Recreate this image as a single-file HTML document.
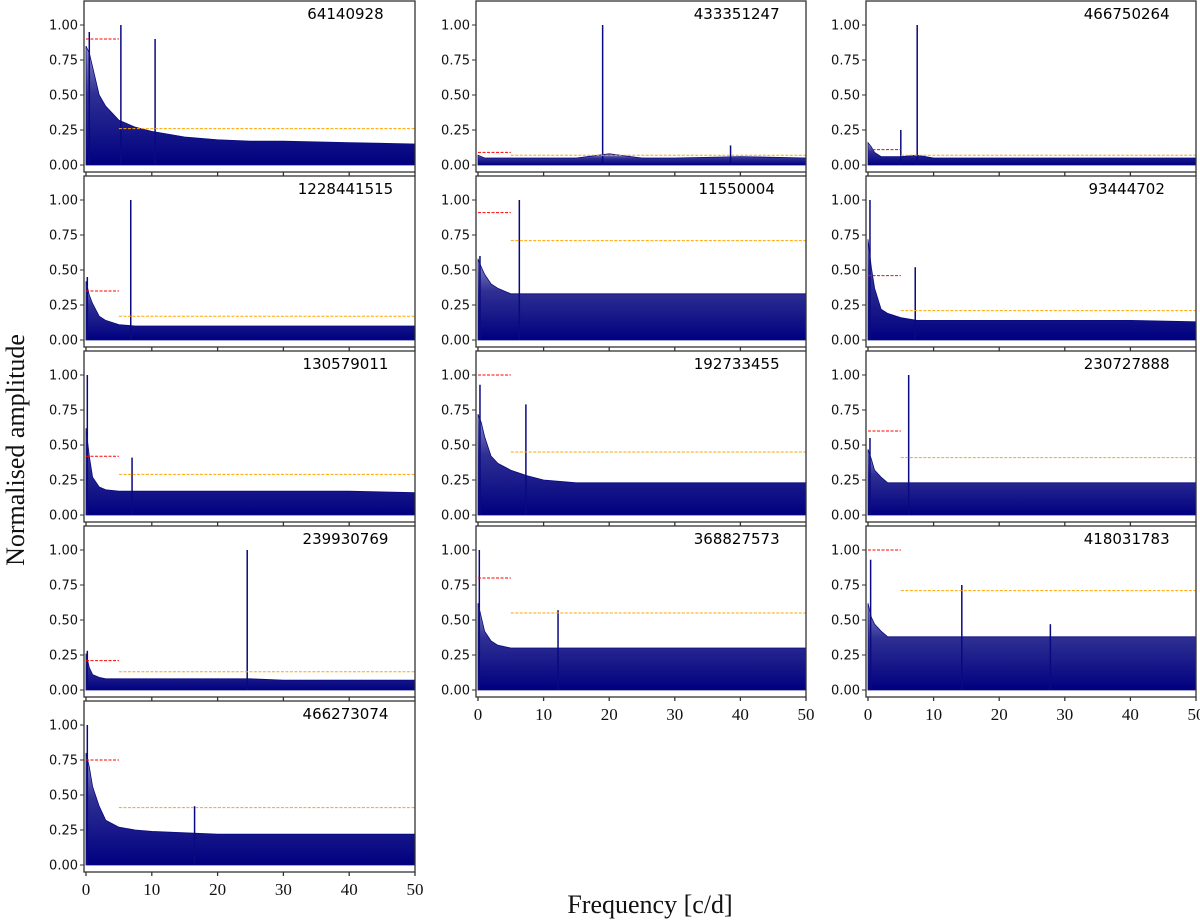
<!DOCTYPE html>
<html><head><meta charset="utf-8"><style>
html,body{margin:0;padding:0;background:#fff;}
svg{display:block;}
.tk{font-family:"DejaVu Sans","Liberation Sans",sans-serif;font-size:13px;fill:#111;}
.xt{font-family:"Liberation Serif",serif;font-size:17px;fill:#111;}
.ttl{font-family:"DejaVu Sans","Liberation Sans",sans-serif;font-size:15px;fill:#000;}
</style></head><body>
<svg id="fig" width="1200" height="922" viewBox="0 0 1200 922" xmlns="http://www.w3.org/2000/svg">
<defs>
<linearGradient id="ng" x1="0" y1="0" x2="0" y2="1">
<stop offset="0" stop-color="#0a0a80" stop-opacity="0.45"/>
<stop offset="0.4" stop-color="#0a0a80" stop-opacity="0.85"/>
<stop offset="1" stop-color="#000080" stop-opacity="1"/>
</linearGradient>
</defs>
<text x="0" y="0" transform="translate(24,450) rotate(-90)" text-anchor="middle" font-family="Liberation Serif, serif" font-size="26" fill="#111">Normalised amplitude</text>
<text x="650" y="913" text-anchor="middle" font-family="Liberation Serif, serif" font-size="26" fill="#111">Frequency [c/d]</text>
</svg>
<script>
const ids = ["64140928","433351247","466750264","1228441515","11550004","93444702","130579011","192733455","230727888","239930769","368827573","418031783","466273074"];
const redLevels = [0.90,0.09,0.11,0.35,0.91,0.46,0.42,1.00,0.60,0.21,0.80,1.00,0.75];
const orangeLevels = [0.26,0.07,0.07,0.17,0.71,0.21,0.29,0.45,0.41,0.13,0.55,0.71,0.41];
const peakFreqs = [[0.5,5.3,10.5],[19,38.5],[7.5,5],[0.2,6.8],[0.3,6.3],[0.3,7.2],[0.2,7],[0.3,7.3],[0.3,6.2],[0.2,24.5],[0.2,12.2],[0.4,14.3,27.8],[0.2,16.5]];
const peakAmps = [[0.95,1.0,0.90],[1.0,0.14],[1.0,0.25],[0.45,1.0],[0.6,1.0],[1.0,0.52],[1.0,0.41],[0.93,0.79],[0.55,1.0],[0.28,1.0],[1.0,0.57],[0.93,0.75,0.47],[1.0,0.42]];
const envFreqs = [0,0.5,1,2,3,5,7.5,10,15,20,25,30,40,50];
const envAmps = [
 [0.85,0.8,0.7,0.5,0.42,0.32,0.27,0.24,0.2,0.18,0.17,0.17,0.16,0.15],
 [0.07,0.06,0.05,0.05,0.05,0.05,0.05,0.05,0.05,0.08,0.05,0.05,0.06,0.05],
 [0.16,0.13,0.09,0.06,0.06,0.06,0.07,0.05,0.05,0.05,0.05,0.05,0.05,0.05],
 [0.42,0.32,0.26,0.17,0.14,0.11,0.1,0.1,0.1,0.1,0.1,0.1,0.1,0.1],
 [0.58,0.52,0.47,0.4,0.37,0.33,0.33,0.33,0.33,0.33,0.33,0.33,0.33,0.33],
 [0.72,0.52,0.37,0.22,0.19,0.16,0.14,0.14,0.14,0.14,0.14,0.14,0.14,0.13],
 [0.62,0.42,0.27,0.2,0.18,0.17,0.17,0.17,0.17,0.17,0.17,0.17,0.17,0.16],
 [0.72,0.66,0.56,0.42,0.37,0.32,0.28,0.25,0.23,0.23,0.23,0.23,0.23,0.23],
 [0.47,0.4,0.32,0.27,0.23,0.23,0.23,0.23,0.23,0.23,0.23,0.23,0.23,0.23],
 [0.26,0.16,0.11,0.09,0.08,0.08,0.08,0.08,0.08,0.08,0.08,0.07,0.07,0.07],
 [0.62,0.52,0.42,0.35,0.32,0.3,0.3,0.3,0.3,0.3,0.3,0.3,0.3,0.3],
 [0.62,0.52,0.47,0.42,0.38,0.38,0.38,0.38,0.38,0.38,0.38,0.38,0.38,0.38],
 [0.8,0.7,0.56,0.42,0.32,0.27,0.25,0.24,0.23,0.22,0.22,0.22,0.22,0.22]
];
const yTicks = [0,0.25,0.5,0.75,1.0];
const yTickLabels = ["0.00","0.25","0.50","0.75","1.00"];
const xTicks = [0,10,20,30,40,50];

const NS="http://www.w3.org/2000/svg";
const svg=document.getElementById('fig');
const colL=[84,476,866], colWs=[331,330,330], rowT=[1,176,351,526,701], rowH=171;
function mk(tag,attrs,parent){const e=document.createElementNS(NS,tag);for(const k in attrs)e.setAttribute(k,attrs[k]);(parent||svg).appendChild(e);return e;}
ids.forEach((id,i)=>{
  const c=i%3, r=Math.floor(i/3);
  const L=colL[c], T=rowT[r], W=colWs[c], H=rowH;
  const sx=f=>L+2+f/50*(W-2);
  const sy=a=>T+164-a*140;
  const g=mk('g',{});
  
  
  let d='M'+sx(0)+','+sy(0);
  envFreqs.forEach((f,k)=>{d+=' L'+sx(f).toFixed(1)+','+sy(envAmps[i][k]).toFixed(1);});
  d+=' L'+sx(50)+','+sy(0)+' Z';
  const env=mk('path',{d:d,fill:'url(#ng)',stroke:'#0a0a80','stroke-width':0.8},g);
  
  
  peakFreqs[i].forEach((f,k)=>{
    const p=mk('line',{x1:sx(f),x2:sx(f),y1:sy(0),y2:sy(peakAmps[i][k]),stroke:'#0a0a80','stroke-width':1.5},g);
    
    
  });
  const rl=mk('line',{x1:sx(0),x2:sx(5),y1:sy(redLevels[i]),y2:sy(redLevels[i]),stroke:'#ff0000','stroke-width':1,'stroke-dasharray':'3,1.5'},g);
  
  
  const ol=mk('line',{x1:sx(5),x2:sx(50),y1:sy(orangeLevels[i]),y2:sy(orangeLevels[i]),stroke:'#ffa500','stroke-width':1,'stroke-dasharray':'3,1.5'},g);
  
  
  const fr=mk('rect',{x:L,y:T,width:W,height:H,fill:'none',stroke:'#333','stroke-width':1.3},g);
  
  
  yTicks.forEach((v,k)=>{
    mk('line',{x1:L-4,x2:L,y1:sy(v),y2:sy(v),stroke:'#333','stroke-width':1},g);
    const t=mk('text',{x:L-6,y:sy(v)+4.5,'text-anchor':'end',class:'tk'},g);
    t.textContent=yTickLabels[k];
    
    
  });
  const bottom=(c===0&&r===4)||(c>0&&r===3);
  xTicks.forEach(v=>{
    mk('line',{x1:sx(v),x2:sx(v),y1:T+H,y2:T+H+4,stroke:'#333','stroke-width':1.3},g);
    if(bottom){
      const t=mk('text',{x:sx(v),y:T+H+23,'text-anchor':'middle',class:'xt'},g);
      t.textContent=String(v);
      
      
    }
  });
  const tt=mk('text',{x:L+0.79*W,y:T+18,'text-anchor':'middle',class:'ttl'},g);
  tt.textContent=id;
  
  
});
</script>
</body></html>
